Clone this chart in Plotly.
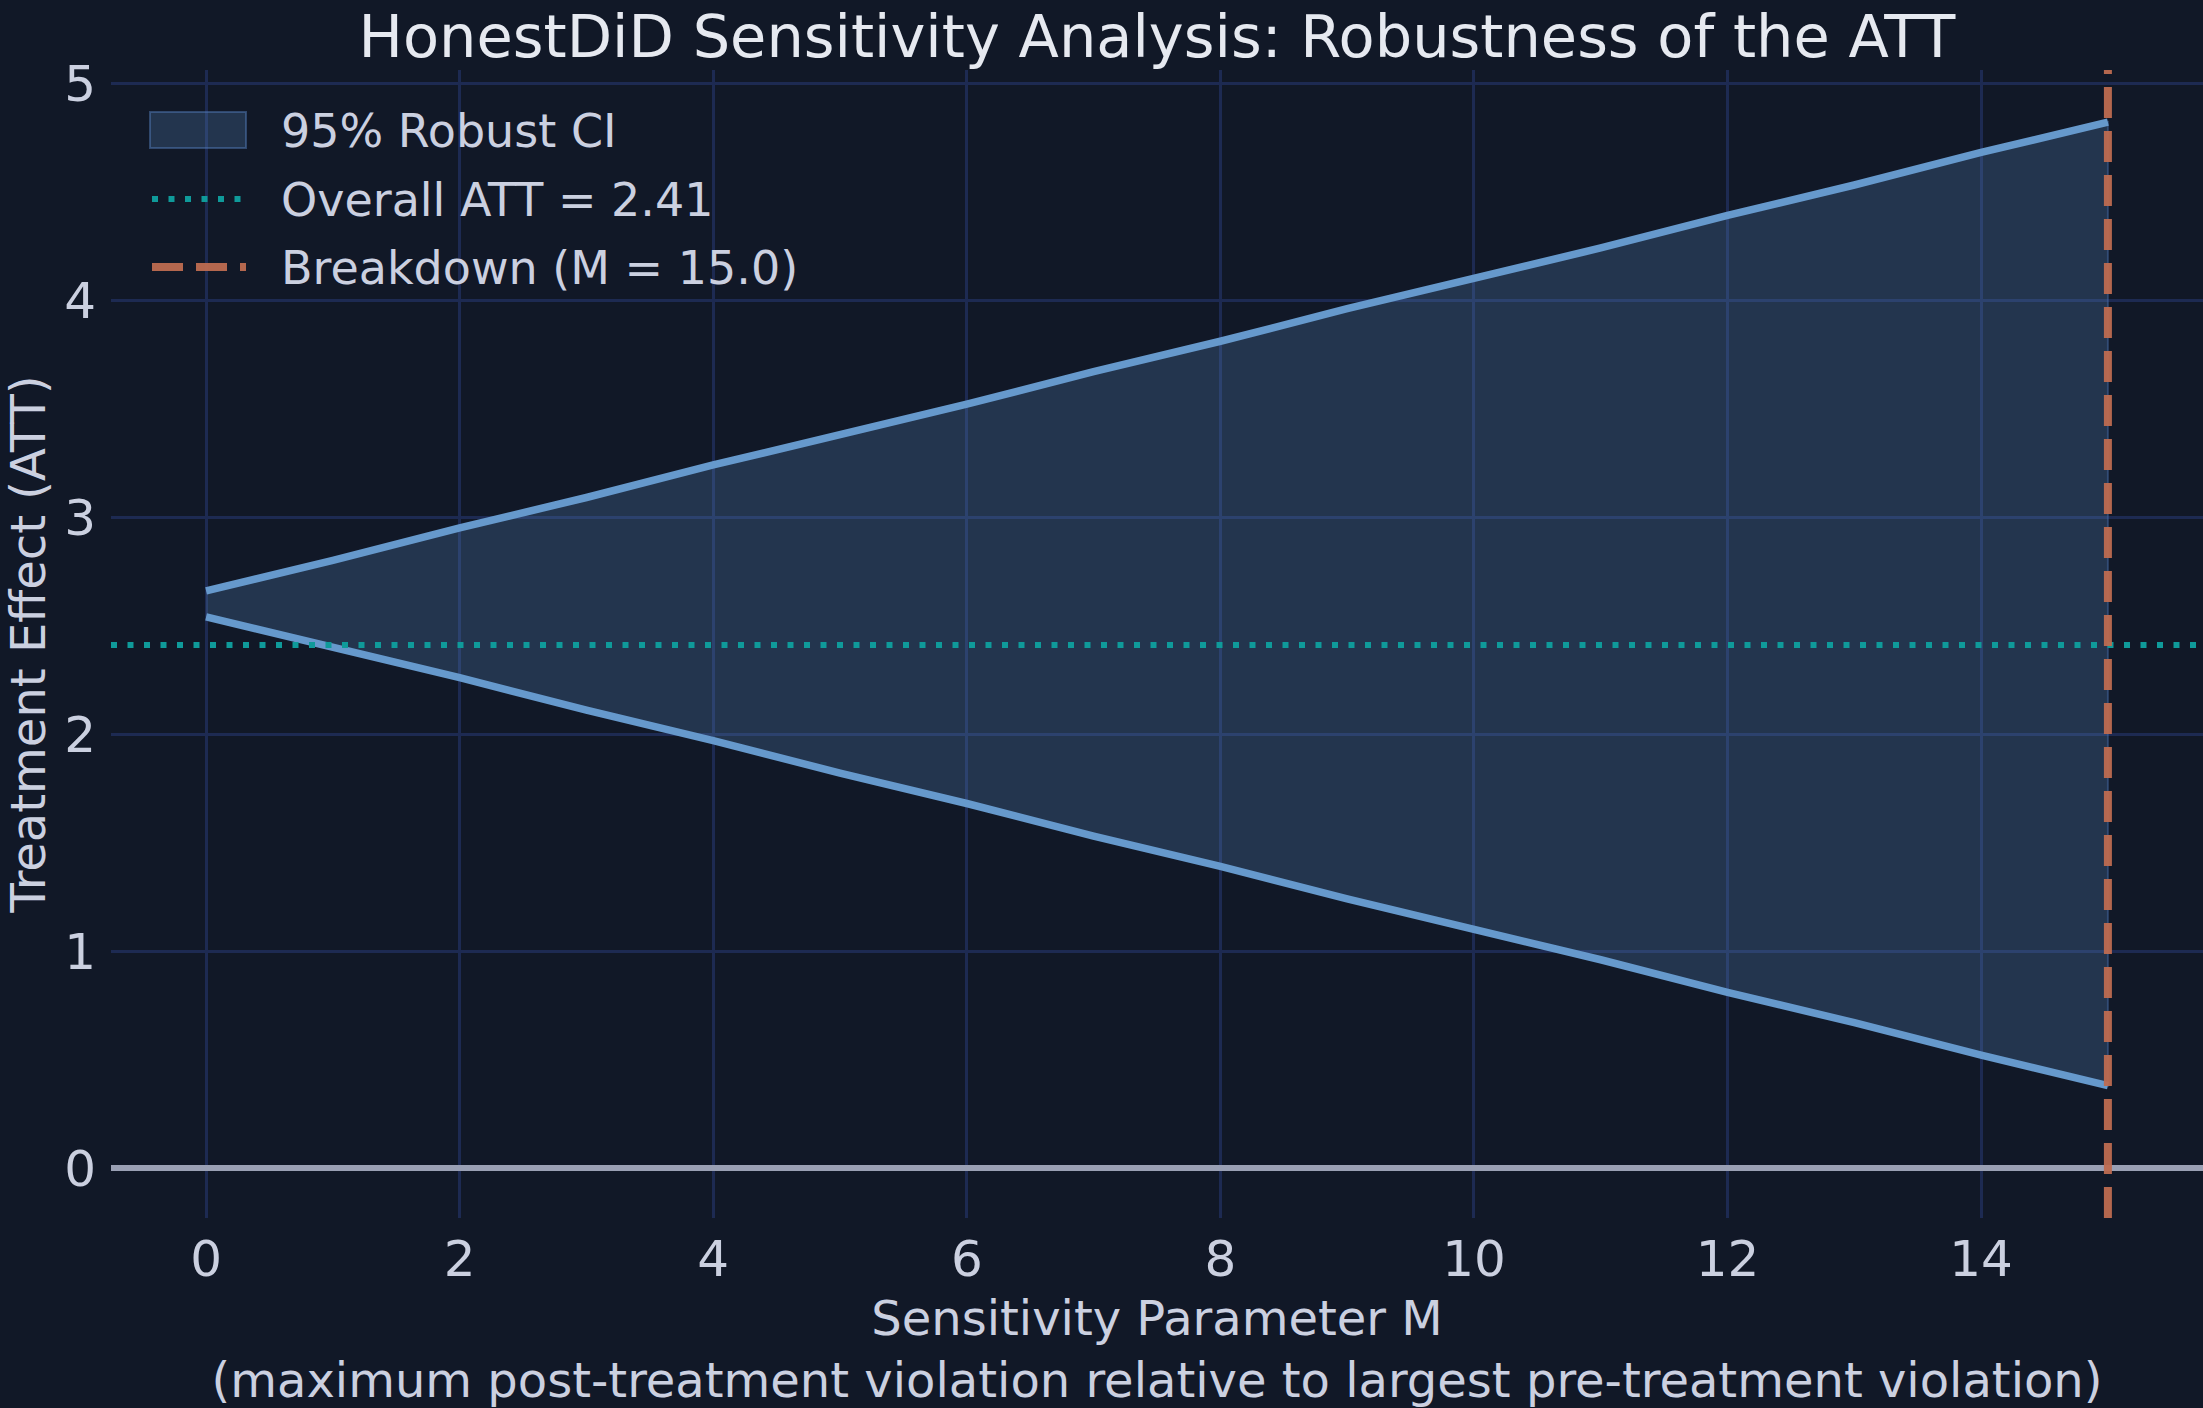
import plotly.graph_objects as go

# --- data ---
m_values = [0, 1, 2, 3, 4, 5, 6, 7, 8, 9, 10, 11, 12, 13, 14, 15]
ci_upper = [2.66, 2.80, 2.95, 3.09, 3.24, 3.38, 3.52, 3.67, 3.81, 3.96, 4.10, 4.24, 4.39, 4.53, 4.68, 4.82]
ci_lower = [2.54, 2.40, 2.26, 2.11, 1.97, 1.82, 1.68, 1.53, 1.39, 1.24, 1.10, 0.96, 0.81, 0.67, 0.52, 0.38]
overall_att = 2.41
breakdown_m = 15.0

x_range = [-0.75, 15.75]
y_range = [-0.23, 5.06]

BG = "#111827"
TEXT = "#cbd0e0"
GRID = "#1d2a52"
FONT = "DejaVu Sans"
BAND = "rgba(90,140,195,0.25)"
TEAL = "#0f9a9a"
ORANGE = "rgba(190,108,80,0.95)"
TEAL_DOT = "6px,10.5px"
ORANGE_DASH = "31px,13px"

W, H = 2203, 1408
ML, MR, MT, MB = 111, 0, 70, 190

fig = go.Figure()

# CI band as one closed polygon (upper edge out, lower edge back)
fig.add_trace(go.Scatter(x=m_values + m_values[::-1], y=ci_upper + ci_lower[::-1],
                         mode="lines", fill="toself", fillcolor=BAND,
                         line=dict(color="rgba(70,110,170,0.45)", width=2),
                         name="95% Robust CI", showlegend=False, hoverinfo="skip"))
# bounds
for ys in (ci_upper, ci_lower):
    fig.add_trace(go.Scatter(x=m_values, y=ys, mode="lines",
                             line=dict(color="#6699cc", width=7.5), showlegend=False))

att_label = f"Overall ATT = {overall_att:.2f}"
bd_label = f"Breakdown (M = {breakdown_m:.1f})"

# overall ATT reference
fig.add_trace(go.Scatter(x=x_range, y=[overall_att, overall_att], mode="lines",
                         line=dict(color=TEAL, width=6, dash=TEAL_DOT),
                         name=att_label, showlegend=False))
# breakdown value
fig.add_trace(go.Scatter(x=[breakdown_m, breakdown_m], y=y_range, mode="lines",
                         line=dict(color=ORANGE, width=8, dash=ORANGE_DASH),
                         name=bd_label, showlegend=False))


# --- legend drawn by hand (matplotlib-style wide keys) ---
def px_x(p):
    return (p - ML) / (W - ML - MR)


def px_y(p):
    return (H - MB - p) / (H - MT - MB)


fig.add_shape(type="rect", xref="paper", yref="paper",
              x0=px_x(150), x1=px_x(246), y0=px_y(148), y1=px_y(112),
              fillcolor=BAND, line=dict(color="rgba(80,120,180,0.5)", width=2))
fig.add_shape(type="line", xref="paper", yref="paper",
              x0=px_x(152), x1=px_x(246), y0=px_y(199), y1=px_y(199),
              line=dict(color=TEAL, width=6, dash=TEAL_DOT))
fig.add_shape(type="line", xref="paper", yref="paper",
              x0=px_x(152), x1=px_x(246), y0=px_y(267), y1=px_y(267),
              line=dict(color=ORANGE, width=8, dash=ORANGE_DASH))
for label, row_y in (("95% Robust CI", 131), (att_label, 200), (bd_label, 268)):
    fig.add_annotation(text=label, xref="paper", yref="paper", x=px_x(279), y=px_y(row_y),
                       xanchor="left", yanchor="middle", showarrow=False,
                       font=dict(size=46, color=TEXT))

fig.update_layout(
    width=W, height=H,
    paper_bgcolor=BG, plot_bgcolor=BG,
    font=dict(family=FONT, color=TEXT, size=48),
    margin=dict(l=ML, r=MR, t=MT, b=MB),
    title=dict(text="HonestDiD Sensitivity Analysis: Robustness of the ATT",
               font=dict(size=59, color="#e6e9f0"),
               x=0.5, xref="paper", y=1 - 36 / H, yref="container", yanchor="middle"),
    showlegend=False,
)

fig.update_xaxes(
    range=x_range, tick0=0, dtick=2, showgrid=True, gridcolor=GRID, gridwidth=2.7,
    zeroline=False, showline=False, ticks="", ticklabelstandoff=7,
    tickfont=dict(size=50, color=TEXT),
    title=dict(text="Sensitivity Parameter M<br>(maximum post-treatment violation relative to largest pre-treatment violation)",
               font=dict(size=48, color=TEXT), standoff=27),
    automargin=False,
)
fig.update_yaxes(
    range=y_range, tick0=0, dtick=1, showgrid=True, gridcolor=GRID, gridwidth=2.7,
    zeroline=True, zerolinecolor="#9aa0b4", zerolinewidth=5.5, showline=False,
    ticks="", ticklabelstandoff=14, tickfont=dict(size=50, color=TEXT),
    title=dict(text="Treatment Effect (ATT)", font=dict(size=48, color=TEXT), standoff=43),
    automargin=False,
)

fig.write_html("out.html", config={"displayModeBar": False},
               post_script="document.body.style.margin='0';")
